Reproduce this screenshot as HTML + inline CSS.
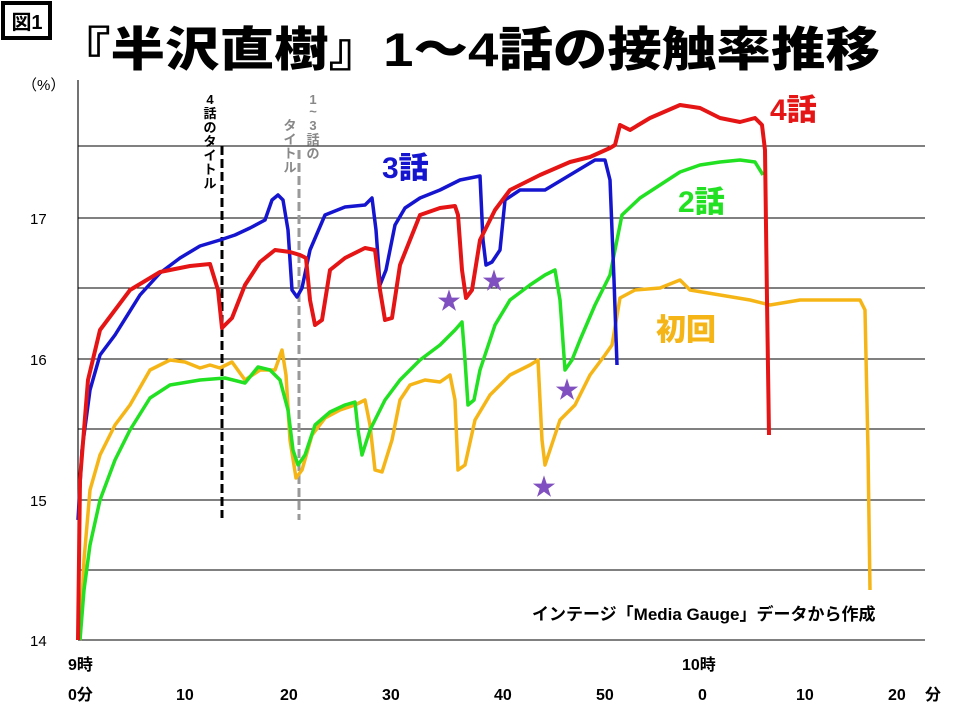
<!DOCTYPE html>
<html><head><meta charset="utf-8"><style>
body{margin:0;background:#fff;width:960px;height:720px;overflow:hidden;font-family:"Liberation Sans","Noto Sans CJK JP",sans-serif}
</style></head><body>
<svg width="960" height="720" xmlns="http://www.w3.org/2000/svg" style="position:absolute;left:0;top:0;font-family:'Liberation Sans','Noto Sans CJK JP',sans-serif">
<rect x="3" y="3" width="47" height="35" fill="#fff" stroke="#000" stroke-width="4"/>
<text x="27" y="29" font-size="20" text-anchor="middle" font-weight="bold">図1</text>
<text x="56" y="66" font-size="47" font-weight="900" textLength="824" lengthAdjust="spacingAndGlyphs">『半沢直樹』1～4話の接触率推移</text>
<text x="22" y="90" font-size="15">（%）</text>
<g stroke="#000" stroke-width="1.1">
<line x1="78" y1="80" x2="78" y2="640"/>
<line x1="78" y1="146" x2="925" y2="146"/><line x1="78" y1="218" x2="925" y2="218"/>
<line x1="78" y1="288" x2="925" y2="288"/><line x1="78" y1="359" x2="925" y2="359"/>
<line x1="78" y1="429" x2="925" y2="429"/><line x1="78" y1="500" x2="925" y2="500"/>
<line x1="78" y1="570" x2="925" y2="570"/><line x1="78" y1="640" x2="925" y2="640"/>
</g>
<g font-size="15"><text x="30" y="224">17</text><text x="30" y="365">16</text><text x="30" y="506">15</text><text x="30" y="646">14</text></g>
<g font-size="16" font-weight="bold">
<text x="68" y="670">9時</text><text x="682" y="670">10時</text>
<text x="68" y="700">0分</text><text x="176" y="700">10</text><text x="280" y="700">20</text><text x="382" y="700">30</text><text x="494" y="700">40</text><text x="596" y="700">50</text><text x="698" y="700">0</text><text x="796" y="700">10</text><text x="888" y="700">20</text><text x="925" y="700">分</text>
<text x="532" y="620" font-size="17">インテージ「Media Gauge」データから作成</text>
</g>
<line x1="222" y1="146" x2="222" y2="518" stroke="#000" stroke-width="3" stroke-dasharray="9,4"/>
<line x1="299" y1="150" x2="299" y2="520" stroke="#999" stroke-width="3" stroke-dasharray="9,4"/>
<g font-size="13" font-weight="bold" text-anchor="middle">
<text x="210" y="104">4</text><text x="210" y="118">話</text><text x="210" y="132">の</text><text x="210" y="146">タ</text><text x="210" y="160">イ</text><text x="210" y="174">ト</text><text x="210" y="188">ル</text>
<g fill="#888"><text x="313" y="104">1</text><text x="313" y="116">~</text><text x="313" y="130">3</text><text x="313" y="144">話</text><text x="313" y="158">の</text><text x="290" y="130">タ</text><text x="290" y="144">イ</text><text x="290" y="158">ト</text><text x="290" y="172">ル</text></g>
</g>
<g fill="none" stroke-width="3.5" stroke-linejoin="round">
<polyline stroke="#f5b516" points="80,640 84,560 90,490 100,455 115,425 130,405 150,370 170,360 185,362 200,368 210,365 220,368 232,362 245,380 260,370 275,370 282,350 286,375 290,440 296,478 302,470 312,435 325,418 340,410 355,405 365,400 370,425 375,470 382,472 392,440 400,400 410,385 425,380 440,382 450,375 455,400 458,470 465,465 475,420 490,395 510,375 530,365 538,360 542,440 545,465 550,450 560,420 575,405 590,375 605,355 612,345 620,298 635,290 660,288 680,280 690,290 720,295 750,300 770,305 800,300 830,300 860,300 865,310 868,450 870,590"/>
<polyline stroke="#22e022" points="80,640 84,590 90,545 100,500 115,460 130,430 150,398 170,385 200,380 225,378 245,383 258,367 270,370 280,380 288,410 293,450 298,465 305,455 315,425 330,412 345,405 355,402 358,430 362,455 370,430 385,400 400,380 420,360 440,345 455,330 462,322 465,360 468,405 474,400 480,370 495,325 510,300 530,285 545,275 555,270 560,300 565,370 572,360 580,340 595,305 610,275 622,215 640,198 660,185 680,172 700,165 720,162 740,160 755,162 763,175"/>
<polyline stroke="#1515d0" points="78,520 82,450 90,390 100,355 115,335 140,295 160,273 180,258 200,246 220,240 235,235 250,228 265,220 272,200 278,195 283,200 288,230 292,290 297,297 302,288 310,250 325,215 345,207 365,205 372,198 376,230 380,285 386,270 395,225 405,208 420,198 440,190 460,180 480,176 483,240 486,265 492,262 500,250 505,200 520,190 545,190 570,175 595,160 605,160 610,180 614,280 617,365"/>
<polyline stroke="#e51515" stroke-width="4" points="78,640 80,480 88,380 100,330 130,290 160,272 190,266 210,264 218,290 222,328 232,318 245,285 260,262 275,250 290,252 300,255 306,258 310,300 315,325 322,320 330,270 345,258 365,248 375,250 380,290 385,320 392,318 400,265 420,215 440,208 455,206 458,215 462,270 466,298 472,290 480,240 495,210 510,190 540,175 570,162 590,157 610,148 615,145 620,125 630,130 650,118 680,105 700,108 720,118 740,122 755,118 762,125 765,150 767,300 769,435"/>
</g>
<g font-size="30" font-weight="900">
<text x="770" y="120" fill="#e51515">4話</text>
<text x="382" y="178" fill="#1515d0">3話</text>
<text x="678" y="212" fill="#22e022">2話</text>
<text x="656" y="340" fill="#f5b516">初回</text>
</g>
<g fill="#8050c0" font-size="24" text-anchor="middle">
<text x="449" y="309">★</text><text x="494" y="289">★</text><text x="567" y="398">★</text><text x="544" y="495">★</text>
</g>
</svg>
</body></html>
